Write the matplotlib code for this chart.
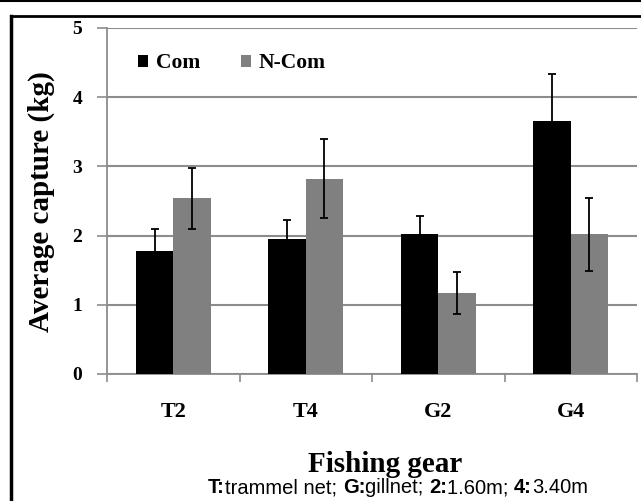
import matplotlib
matplotlib.use("Agg")
import matplotlib.pyplot as plt
from matplotlib.lines import Line2D
import numpy as np

categories = ["T2", "T4", "G2", "G4"]
com_values = [1.78, 1.95, 2.02, 3.66]
com_err = [0.32, 0.28, 0.27, 0.67]
ncom_values = [2.54, 2.82, 1.17, 2.02]
ncom_err = [0.44, 0.57, 0.30, 0.53]
series_names = ["Com", "N-Com"]
yticks = [0, 1, 2, 3, 4, 5]

W, H = 641, 501
fig = plt.figure(figsize=(W / 100, H / 100), dpi=100)
ax = fig.add_axes([107 / W, 1 - 374 / H, (637 - 107) / W, (374 - 28) / H])

serif = "Liberation Serif"
x = np.arange(len(categories))
bw = 0.283
ax.bar(x - bw / 2, com_values, width=bw, color="black", zorder=3, label=series_names[0])
ax.bar(x + bw / 2, ncom_values, width=bw, color="#808080", zorder=3, label=series_names[1])
ax.errorbar(x - bw / 2, com_values, yerr=com_err, fmt="none", ecolor="black",
            elinewidth=1.3, capsize=3, capthick=1.3, zorder=4)
ax.errorbar(x + bw / 2, ncom_values, yerr=ncom_err, fmt="none", ecolor="black",
            elinewidth=1.3, capsize=3, capthick=1.3, zorder=4)

ax.set_xlim(-0.5, len(categories) - 0.5)
ax.set_ylim(0, 5)
ax.set_yticks(yticks)
ax.set_yticklabels([str(v) for v in yticks], fontfamily=serif, fontweight="bold", fontsize=14)
ax.yaxis.grid(True, color="#8c8c8c", linewidth=1.5, zorder=0)
ax.set_axisbelow(True)

ax.set_xticks(x)
ax.set_xticklabels(categories, fontfamily=serif, fontweight="bold", fontsize=16)
ax.tick_params(axis="x", which="major", length=0, pad=20)
ax.set_xticks(np.arange(-0.5, len(categories), 1.0), minor=True)
ax.tick_params(axis="x", which="minor", length=6, color="#8c8c8c", width=1.2)
ax.tick_params(axis="y", length=7, color="#8c8c8c", width=1.2, pad=11)

for s in ["top", "right"]:
    ax.spines[s].set_visible(False)
for s in ["left", "bottom"]:
    ax.spines[s].set_color("#8c8c8c")
    ax.spines[s].set_linewidth(1.3)

fig.text(41 / W, 1 - 202 / H, "Average capture (kg)", rotation=90, ha="center", va="center",
         fontfamily=serif, fontweight="bold", fontsize=21)

leg = ax.legend(loc="center left", bbox_to_anchor=(0.058, 0.898), ncol=2, frameon=False,
                borderpad=0, borderaxespad=0,
                prop={"family": serif, "weight": "bold", "size": 15.5},
                handlelength=0.48, handleheight=0.48, handletextpad=0.35, columnspacing=1.9)

fig.text(385 / W, 1 - 472 / H, "Fishing gear", ha="center", va="baseline",
         fontfamily=serif, fontweight="bold", fontsize=21)

parts = [("T:", True), ("trammel net; ", False), ("G:", True), ("gillnet; ", False),
         ("2:", True), ("1.60m; ", False), ("4:", True), ("3.40m", False)]
renderer = fig.canvas.get_renderer()
texts = []
xpos = 207
for txt, bold in parts:
    t = fig.text(xpos / W, 1 - 493 / H, txt, ha="left", va="baseline",
                 fontfamily="Liberation Sans", fontweight="bold" if bold else "normal",
                 fontsize=14.5)
    bb = t.get_window_extent(renderer=renderer)
    xpos += bb.width
    texts.append(t)
total = xpos - 207
shift = (398 - total / 2) - 207
for t in texts:
    px, py = t.get_position()
    t.set_position((px + shift / W, py))

# outer frame
fig.add_artist(Line2D([0, 1], [1 - 1 / H, 1 - 1 / H], color="black", linewidth=1.5))
fig.add_artist(Line2D([11 / W, 1], [1 - 16 / H, 1 - 16 / H], color="black", linewidth=2))
fig.add_artist(Line2D([11 / W, 11 / W], [0, 1 - 16 / H], color="black", linewidth=2.5))

fig.savefig("out.png", dpi=100)
